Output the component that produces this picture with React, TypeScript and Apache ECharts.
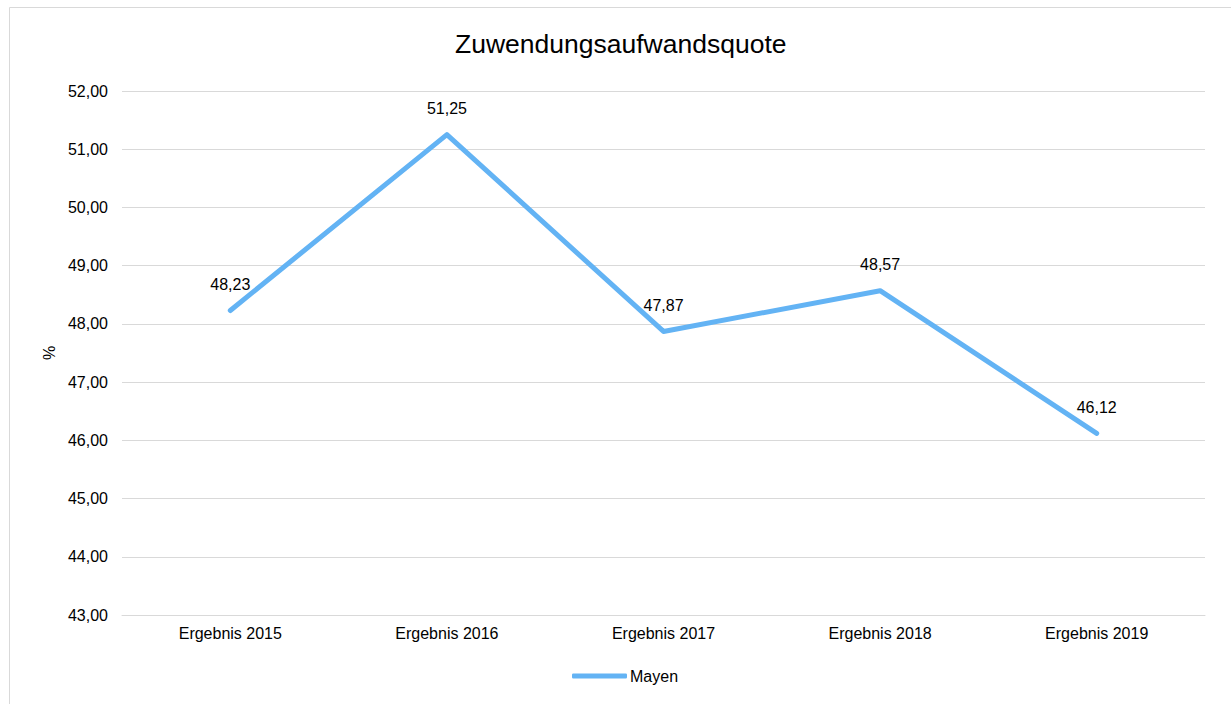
import React, { useEffect, useRef } from "react";
import * as echarts from "echarts";

const categories = ["Ergebnis 2015", "Ergebnis 2016", "Ergebnis 2017", "Ergebnis 2018", "Ergebnis 2019"];
const mayen = [48.23, 51.25, 47.87, 48.57, 46.12];
const seriesName = "Mayen";
const title = "Zuwendungsaufwandsquote";
const yName = "%";

const fmt = (v: number) => v.toFixed(2).replace(".", ",");

export default function App() {
  const ref = useRef<HTMLDivElement>(null);
  useEffect(() => {
    const chart = echarts.init(ref.current!, null, { renderer: "svg" });
    const font = "'Liberation Sans', Arial, sans-serif";
    const blue = "#63b3f4";
    chart.setOption({
      animation: false,
      textStyle: { fontFamily: font },
      graphic: [
        {
          type: "rect",
          shape: { x: 9.5, y: 7.5, width: 1240, height: 720 },
          style: { fill: "none", stroke: "#d9d9d9", lineWidth: 1 },
          silent: true,
        },
      ],
      title: {
        text: title,
        left: 450,
        top: 25,
        textStyle: { fontSize: 26.5, fontWeight: "normal", color: "#000", fontFamily: font },
      },
      legend: {
        data: [seriesName],
        bottom: 15,
        left: 567,
        icon: "roundRect",
        itemWidth: 55,
        itemHeight: 5,
        itemGap: 10,
        itemStyle: { color: blue, opacity: 1 },
        textStyle: { fontSize: 16, color: "#000", fontFamily: font, padding: [0, 0, 0, -2] },
      },
      grid: { left: 122, right: 26, top: 91, bottom: 89, containLabel: false },
      xAxis: {
        type: "category",
        data: categories,
        boundaryGap: true,
        axisLine: { show: true, lineStyle: { color: "#d9d9d9", width: 1 } },
        axisTick: { show: false },
        axisLabel: { fontSize: 16, color: "#000", margin: 10, fontFamily: font },
        splitLine: { show: false },
      },
      yAxis: {
        type: "value",
        min: 43,
        max: 52,
        interval: 1,
        name: yName,
        nameLocation: "middle",
        nameGap: 63,
        nameRotate: 90,
        nameTextStyle: { fontSize: 16, color: "#000", fontFamily: font },
        axisLine: { show: false },
        axisTick: { show: false },
        axisLabel: { fontSize: 16, color: "#000", margin: 14, formatter: (v: number) => fmt(v), fontFamily: font },
        splitLine: { show: true, lineStyle: { color: "#d9d9d9", width: 1 } },
      },
      series: [
        {
          name: seriesName,
          type: "line",
          data: mayen,
          symbol: "circle",
          symbolSize: 0,
          showSymbol: true,
          itemStyle: { color: blue },
          lineStyle: { color: blue, width: 5, cap: "round", join: "round" },
          label: {
            show: true,
            position: "top",
            distance: 18,
            fontSize: 16,
            color: "#000",
            fontFamily: font,
            formatter: (p: any) => fmt(p.value),
          },
        },
      ],
    });
    return () => chart.dispose();
  }, []);
  return (
    <div
      ref={ref}
      style={{ position: "absolute", left: 0, top: 0, width: 1231, height: 704, background: "#fff" }}
    />
  );
}
